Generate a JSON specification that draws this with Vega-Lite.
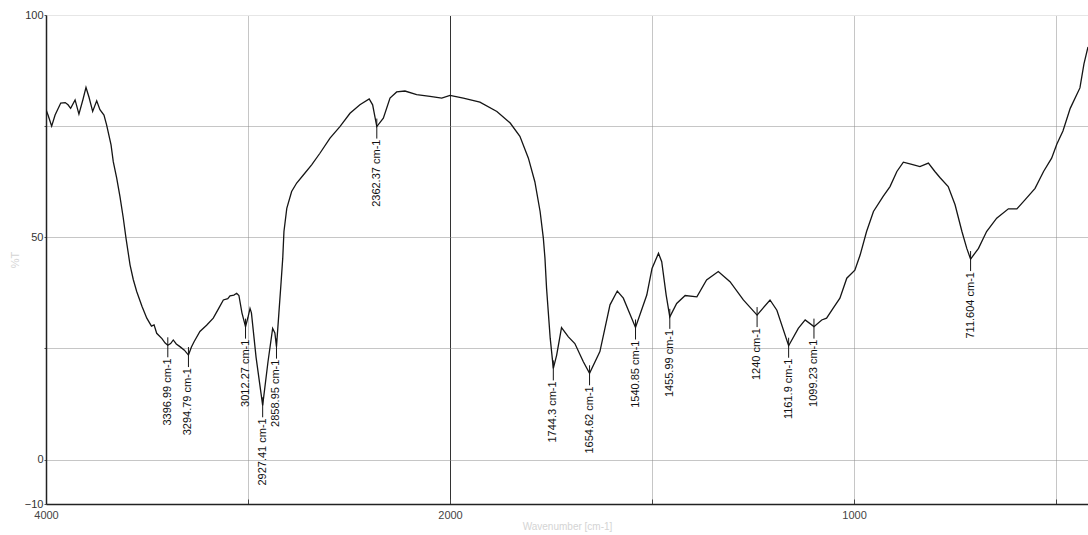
{
  "$schema": "https://vega.github.io/schema/vega-lite/v6.json",
  "width": 1042,
  "height": 489,
  "autosize": "none",
  "padding": {"left": 46, "top": 15, "right": 0, "bottom": 31},
  "background": "white",
  "config": {
    "font": "Liberation Sans",
    "view": {"stroke": null}
  },
  "datasets": {
    "spectrum": [
      {"wn": 4000, "t": 78.7}, {"wn": 3990, "t": 77.5}, {"wn": 3972, "t": 75.0}, {"wn": 3955, "t": 77.5},
      {"wn": 3927, "t": 80.2}, {"wn": 3905, "t": 80.3}, {"wn": 3891, "t": 79.8}, {"wn": 3878, "t": 79.0},
      {"wn": 3856, "t": 80.9}, {"wn": 3837, "t": 77.7}, {"wn": 3817, "t": 81.0}, {"wn": 3802, "t": 83.7},
      {"wn": 3787, "t": 81.5}, {"wn": 3769, "t": 78.3}, {"wn": 3749, "t": 80.7}, {"wn": 3733, "t": 78.7},
      {"wn": 3713, "t": 77.5}, {"wn": 3700, "t": 75.3}, {"wn": 3678, "t": 70.8}, {"wn": 3667, "t": 67.0},
      {"wn": 3650, "t": 63.3}, {"wn": 3634, "t": 59.2}, {"wn": 3618, "t": 54.5}, {"wn": 3604, "t": 49.8},
      {"wn": 3584, "t": 43.8}, {"wn": 3568, "t": 40.5}, {"wn": 3551, "t": 37.8}, {"wn": 3525, "t": 34.5},
      {"wn": 3501, "t": 31.8}, {"wn": 3478, "t": 30.0}, {"wn": 3465, "t": 30.3}, {"wn": 3452, "t": 28.4},
      {"wn": 3426, "t": 27.2}, {"wn": 3410, "t": 26.2}, {"wn": 3397, "t": 25.7}, {"wn": 3383, "t": 26.1},
      {"wn": 3370, "t": 26.9}, {"wn": 3355, "t": 26.0}, {"wn": 3337, "t": 25.4}, {"wn": 3315, "t": 24.6},
      {"wn": 3294.8, "t": 23.5}, {"wn": 3280, "t": 25.3}, {"wn": 3267, "t": 26.5}, {"wn": 3238, "t": 28.8},
      {"wn": 3205, "t": 30.2}, {"wn": 3172, "t": 31.8}, {"wn": 3145, "t": 34.0}, {"wn": 3122, "t": 35.9},
      {"wn": 3100, "t": 36.2}, {"wn": 3089, "t": 36.8}, {"wn": 3070, "t": 37.0}, {"wn": 3056, "t": 37.4},
      {"wn": 3045, "t": 36.9}, {"wn": 3030, "t": 33.0},
      {"wn": 3012.3, "t": 29.9}, {"wn": 3000, "t": 32.0}, {"wn": 2990, "t": 34.0}, {"wn": 2983, "t": 33.0},
      {"wn": 2960, "t": 23.0}, {"wn": 2927.4, "t": 12.2}, {"wn": 2901, "t": 22.0}, {"wn": 2878, "t": 29.5},
      {"wn": 2867, "t": 28.5}, {"wn": 2859, "t": 25.4}, {"wn": 2847, "t": 33.0}, {"wn": 2836, "t": 40.0},
      {"wn": 2828, "t": 45.3}, {"wn": 2822, "t": 51.3}, {"wn": 2808, "t": 56.5}, {"wn": 2784, "t": 60.3},
      {"wn": 2759, "t": 62.2}, {"wn": 2726, "t": 64.0}, {"wn": 2685, "t": 66.3}, {"wn": 2644, "t": 68.9},
      {"wn": 2594, "t": 72.3}, {"wn": 2545, "t": 74.9}, {"wn": 2495, "t": 77.9}, {"wn": 2446, "t": 79.8},
      {"wn": 2400, "t": 81.1}, {"wn": 2383, "t": 79.8},
      {"wn": 2362.4, "t": 74.9}, {"wn": 2330, "t": 76.8}, {"wn": 2297, "t": 81.3}, {"wn": 2264, "t": 82.7},
      {"wn": 2223, "t": 82.9}, {"wn": 2165, "t": 82.1}, {"wn": 2099, "t": 81.7}, {"wn": 2041, "t": 81.3},
      {"wn": 2000, "t": 81.9}, {"wn": 1967, "t": 81.3}, {"wn": 1926, "t": 80.4}, {"wn": 1884, "t": 78.3},
      {"wn": 1851, "t": 75.7}, {"wn": 1827, "t": 72.7}, {"wn": 1806, "t": 67.8}, {"wn": 1790, "t": 62.5},
      {"wn": 1777, "t": 55.8}, {"wn": 1769, "t": 49.8}, {"wn": 1765, "t": 45.3},
      {"wn": 1761, "t": 38.5}, {"wn": 1752, "t": 27.3}, {"wn": 1744.3, "t": 20.5},
      {"wn": 1736, "t": 23.5}, {"wn": 1724, "t": 29.7}, {"wn": 1707, "t": 27.6}, {"wn": 1691, "t": 26.1},
      {"wn": 1670, "t": 22.0}, {"wn": 1654.6, "t": 19.4}, {"wn": 1629, "t": 24.3}, {"wn": 1604, "t": 34.8},
      {"wn": 1586, "t": 37.9}, {"wn": 1571, "t": 36.3}, {"wn": 1540.9, "t": 29.7}, {"wn": 1513, "t": 37.0},
      {"wn": 1500, "t": 43.0}, {"wn": 1484, "t": 46.4}, {"wn": 1476, "t": 44.5}, {"wn": 1465, "t": 37.0},
      {"wn": 1456, "t": 32.1}, {"wn": 1439, "t": 35.1}, {"wn": 1418, "t": 36.9}, {"wn": 1389, "t": 36.6},
      {"wn": 1365, "t": 40.4}, {"wn": 1336, "t": 42.3}, {"wn": 1307, "t": 40.0}, {"wn": 1274, "t": 35.9},
      {"wn": 1240, "t": 32.5}, {"wn": 1208, "t": 35.9}, {"wn": 1191, "t": 33.6}, {"wn": 1161.9, "t": 25.6},
      {"wn": 1138, "t": 29.5}, {"wn": 1121, "t": 31.4}, {"wn": 1099.2, "t": 29.9}, {"wn": 1080, "t": 31.4},
      {"wn": 1068, "t": 31.8}, {"wn": 1052, "t": 34.0}, {"wn": 1035, "t": 36.3}, {"wn": 1018, "t": 40.8},
      {"wn": 998, "t": 42.6}, {"wn": 985, "t": 46.0}, {"wn": 969, "t": 51.3}, {"wn": 952, "t": 55.8},
      {"wn": 928, "t": 59.2}, {"wn": 911, "t": 61.4}, {"wn": 894, "t": 64.8}, {"wn": 878, "t": 66.9},
      {"wn": 857, "t": 66.4}, {"wn": 837, "t": 65.9}, {"wn": 816, "t": 66.7}, {"wn": 800, "t": 64.8},
      {"wn": 787, "t": 63.4}, {"wn": 767, "t": 61.4}, {"wn": 750, "t": 57.3}, {"wn": 733, "t": 51.3},
      {"wn": 721, "t": 47.5}, {"wn": 711.6, "t": 45.1}, {"wn": 692, "t": 47.5}, {"wn": 672, "t": 51.3},
      {"wn": 647, "t": 54.3}, {"wn": 618, "t": 56.4}, {"wn": 597, "t": 56.4}, {"wn": 577, "t": 58.4},
      {"wn": 552, "t": 61.0}, {"wn": 531, "t": 64.8}, {"wn": 511, "t": 67.8}, {"wn": 498, "t": 71.0},
      {"wn": 483, "t": 73.9}, {"wn": 465, "t": 79.0}, {"wn": 441, "t": 83.6}, {"wn": 431, "t": 89.0},
      {"wn": 421, "t": 92.8}
    ],
    "peaks": [
      {"wn": 3396.99, "t": 25.7, "label": "3396.99 cm-1"},
      {"wn": 3294.79, "t": 23.5, "label": "3294.79 cm-1"},
      {"wn": 3012.27, "t": 29.9, "label": "3012.27 cm-1"},
      {"wn": 2927.41, "t": 12.2, "label": "2927.41 cm-1"},
      {"wn": 2858.95, "t": 25.4, "label": "2858.95 cm-1"},
      {"wn": 2362.37, "t": 74.9, "label": "2362.37 cm-1"},
      {"wn": 1744.3, "t": 20.5, "label": "1744.3 cm-1"},
      {"wn": 1654.62, "t": 19.4, "label": "1654.62 cm-1"},
      {"wn": 1540.85, "t": 29.7, "label": "1540.85 cm-1"},
      {"wn": 1455.99, "t": 32.1, "label": "1455.99 cm-1"},
      {"wn": 1240, "t": 32.5, "label": "1240 cm-1"},
      {"wn": 1161.9, "t": 25.6, "label": "1161.9 cm-1"},
      {"wn": 1099.23, "t": 29.9, "label": "1099.23 cm-1"},
      {"wn": 711.604, "t": 45.1, "label": "711.604 cm-1"}
    ]
  },
  "encoding": {
    "x": {
      "field": "wn",
      "type": "quantitative",
      "scale": {"domain": [4000, 2000, 421], "range": [0, 404, 1042], "nice": false, "zero": false},
      "axis": {
        "title": "Wavenumber [cm-1]",
        "titleColor": "#d4d4d4",
        "titleFontSize": 10,
        "titleFontWeight": "normal",
        "titlePadding": 1,
        "values": [4000, 3000, 2000, 1500, 1000, 500],
        "format": "d",
        "labelExpr": "datum.value == 4000 || datum.value == 2000 || datum.value == 1000 ? datum.label : ''",
        "labelColor": "#444",
        "labelFontSize": 11,
        "labelPadding": 10,
        "labelFlush": false,
        "labelOverlap": false,
        "domainColor": "#222",
        "domainWidth": 1.5,
        "ticks": true,
        "tickSize": -5,
        "tickColor": "#444",
        "grid": true,
        "gridColor": {"condition": {"test": "datum.value == 2000", "value": "#333"}, "value": "#8c8c8c"},
        "gridDash": {"condition": {"test": "datum.value == 2000", "value": []}, "value": [1, 1]},
        "gridWidth": 1,
        "zindex": 0
      }
    },
    "y": {
      "field": "t",
      "type": "quantitative",
      "scale": {"domain": [-10, 100], "nice": false, "zero": false},
      "axis": {
        "title": "%T",
        "titleColor": "#d4d4d4",
        "titleFontSize": 11,
        "titleFontWeight": "normal",
        "titlePadding": 4,
        "values": [-10, 0, 25, 50, 75, 100],
        "labelExpr": "datum.value == 25 || datum.value == 75 ? '' : datum.label",
        "labelColor": "#333",
        "labelFontSize": 11,
        "labelPadding": 1,
        "labelFlush": false,
        "labelOverlap": false,
        "domainColor": "#222",
        "domainWidth": 1.5,
        "tickSize": 2,
        "tickColor": "#555",
        "grid": true,
        "gridColor": {"condition": {"test": "datum.value == 100", "value": "#e6e6e6"}, "value": "#8c8c8c"},
        "gridDash": {"condition": {"test": "datum.value == 100", "value": []}, "value": [1, 1]},
        "gridOpacity": {"condition": {"test": "datum.value == -10", "value": 0}, "value": 1},
        "zindex": 0
      }
    }
  },
  "layer": [
    {
      "data": {"name": "spectrum"},
      "mark": {"type": "line", "color": "#151515", "strokeWidth": 1.3, "clip": true}
    },
    {
      "data": {"name": "peaks"},
      "mark": {"type": "rule", "color": "#151515", "strokeWidth": 1, "yOffset": -8, "y2Offset": 12},
      "encoding": {"y2": {"field": "t"}}
    },
    {
      "data": {"name": "peaks"},
      "mark": {"type": "text", "angle": 270, "align": "right", "baseline": "middle", "fontSize": 11, "color": "#111", "yOffset": 13},
      "encoding": {"text": {"field": "label"}}
    }
  ]
}
